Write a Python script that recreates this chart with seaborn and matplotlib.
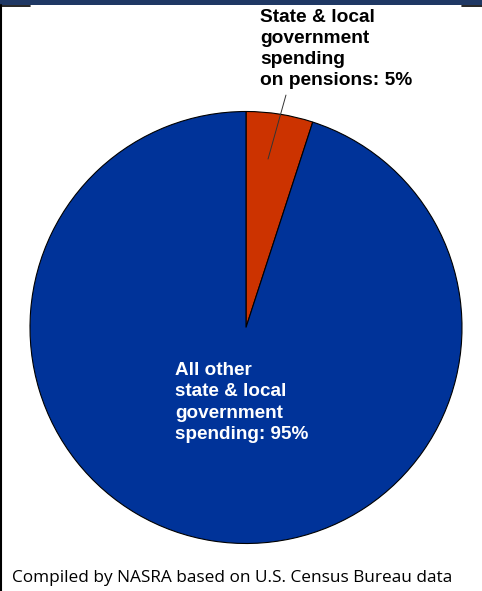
import matplotlib
matplotlib.use("Agg")
import matplotlib.pyplot as plt
from matplotlib.patches import Rectangle
from matplotlib.lines import Line2D
import seaborn as sns

# Share of state & local government spending
categories = ["State & local government spending on pensions",
              "All other state & local government spending"]
shares = [5, 95]
slice_colors = ["#CC3300", "#003399"]
pension_label = "State & local\ngovernment\nspending\non pensions: 5%"
other_label = "All other\nstate & local\ngovernment\nspending: 95%"
source_note = "Compiled by NASRA based on U.S. Census Bureau data"

sns.set_theme(style="white")
plt.rcParams["font.family"] = ["Liberation Sans", "DejaVu Sans"]

W, H, DPI = 482, 591, 100
fig = plt.figure(figsize=(W / DPI, H / DPI), dpi=DPI)
fig.patch.set_facecolor("white")

# pie axes: centre (246, 327.5) px, radius 216 px
cx, cy, r = 246, 327.5, 216
ax = fig.add_axes([(cx - r) / W, (H - cy - r) / H, 2 * r / W, 2 * r / H])
ax.pie(shares, colors=slice_colors, startangle=90, counterclock=False,
       radius=1.0, wedgeprops=dict(edgecolor="black", linewidth=0.8))
ax.set_xlim(-1, 1)
ax.set_ylim(-1, 1)
ax.axis("off")

# leader line from the pension slice to its label
ax.add_line(Line2D([0.102, 0.185], [0.78, 1.076], color="#333333",
                   linewidth=0.7, clip_on=False))

fig.text(260 / W, 1 - 9 / H, pension_label, ha="left", va="top",
         fontsize=13.8, fontweight="bold", color="black", linespacing=1.31)
fig.text(175 / W, 1 - 362 / H, other_label, ha="left", va="top",
         fontsize=13.6, fontweight="bold", color="white", linespacing=1.33)

fig.text(12 / W, 1 - 578 / H, source_note, ha="left", va="center",
         fontsize=12.45, color="black", family=["Open Sans", "DejaVu Sans"])

# header band and frame edges
fig.patches.append(Rectangle((0, 1 - 5 / H), 1, 5 / H, transform=fig.transFigure,
                             facecolor="#1F3864", edgecolor="none"))
fig.add_artist(Line2D([0, 30 / W], [1 - 5.5 / H] * 2, transform=fig.transFigure,
                      color="black", linewidth=1.2))
fig.add_artist(Line2D([462 / W, 1], [1 - 5.5 / H] * 2, transform=fig.transFigure,
                      color="black", linewidth=1.2))
fig.add_artist(Line2D([0.6 / W] * 2, [0, 1 - 5 / H], transform=fig.transFigure,
                      color="black", linewidth=1.5))

fig.savefig("out.png", dpi=DPI)
